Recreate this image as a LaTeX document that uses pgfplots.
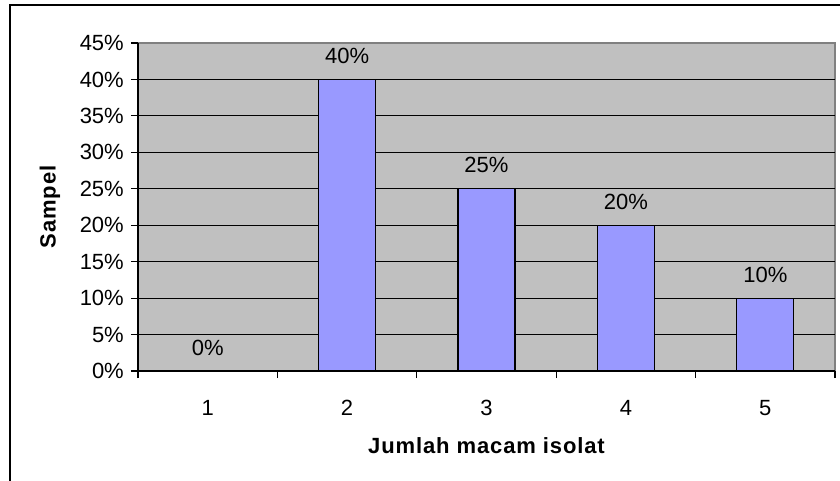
\documentclass[border=0pt]{standalone}
\usepackage{pgfplots}
\pgfplotsset{compat=1.18}
\usepackage{fontspec}
\setmainfont{Liberation Sans}
\newfontfamily\boldspaced[LetterSpace=4]{Liberation Sans Bold}
\definecolor{plotgray}{HTML}{C0C0C0}
\definecolor{barblue}{HTML}{9999FF}
\definecolor{bordergray}{HTML}{808080}
\newcommand{\bigf}{\fontsize{22bp}{26bp}\selectfont}
\begin{document}
\begin{tikzpicture}
\useasboundingbox (0,0) rectangle (840bp,481bp);
\draw[line width=1.8bp] (10bp,-5bp) -- (10bp,476bp) -- (850bp,476bp);
\begin{axis}[
  at={(138bp,110bp)}, anchor=south west,
  scale only axis, width=697bp, height=328bp,
  xmin=0.5, xmax=5.5, ymin=0, ymax=45,
  axis lines*=left,
  axis line style={line width=1.2bp, black, -},
  axis background/.style={fill=plotgray, draw=bordergray, line width=1.2bp},
  xtick={1,2,3,4,5},
  xticklabels={1,2,3,4,5},
  minor xtick={0.5,1.5,2.5,3.5,4.5,5.5},
  major x tick style={draw=none},
  minor x tick style={line width=1.2bp, black},
  minor tick length=7bp,
  ytick={0,5,...,45},
  yticklabels={0\%,5\%,10\%,15\%,20\%,25\%,30\%,35\%,40\%,45\%},
  major y tick style={line width=1.2bp, black},
  major tick length=7bp,
  tick align=outside,
  extra y ticks={5,10,...,40},
  extra y tick labels={},
  extra y tick style={grid=major, major tick length=0pt},
  grid style={line width=1.2bp, black},
  yticklabel style={font=\bigf, anchor=east, inner sep=0pt, xshift=-7bp},
  xticklabel style={font=\bigf, anchor=north, inner sep=0pt, yshift=-22bp},
  xlabel={Jumlah macam isolat},
  ylabel={Sampel},
  xlabel style={font=\boldspaced\bigf, at={([yshift=-82bp]axis description cs:0.5,0)}, anchor=base, inner sep=0pt},
  ylabel style={font=\boldspaced\bigf, at={([xshift=-88bp]axis description cs:0,0.5)}, anchor=center, inner sep=0pt},
  /pgf/number format/assume math mode=true,
  nodes near coords={\pgfmathprintnumber{\pgfplotspointmeta}\%},
  every node near coord/.append style={anchor=base, inner sep=0pt, yshift=16bp, font=\bigf, black},
]
\addplot[ybar, bar width=57bp, fill=barblue, draw=black, line width=1.2bp] coordinates {(1,0) (2,40) (3,25) (4,20) (5,10)};
\end{axis}
\end{tikzpicture}
\end{document}
